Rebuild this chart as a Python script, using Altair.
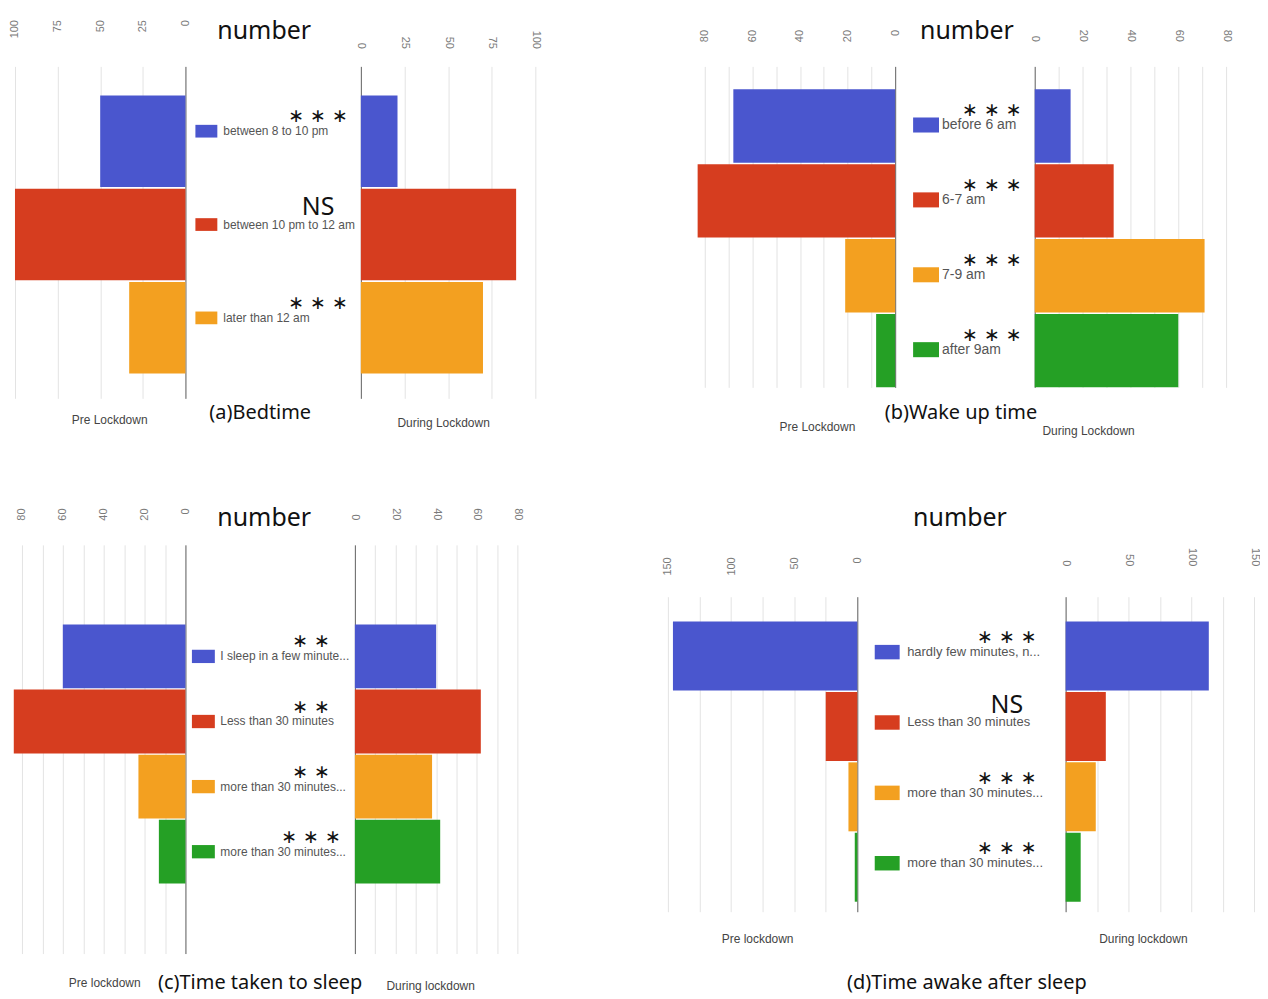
import altair as alt
import pandas as pd

COLORS = ["#4a56ce", "#d63d1f", "#f3a020", "#25a025"]

# (a) Bedtime
a_labels = ["between 8 to 10 pm", "between 10 pm to 12 am", "later than 12 am"]
a_pre = [50, 100, 33]
a_during = [21, 89, 70]
a_sig = ["***", "NS", "***"]

# (b) Wake up time
b_labels = ["before 6 am", "6-7 am", "7-9 am", "after 9am"]
b_pre = [68, 83, 21, 8]
b_during = [15, 33, 71, 60]
b_sig = ["***", "***", "***", "***"]

# (c) Time taken to sleep
c_labels = ["I sleep in a few minute...", "Less than 30 minutes",
            "more than 30 minutes...", "more than 30 minutes..."]
c_pre = [60, 84, 23, 13]
c_during = [40, 62, 38, 42]
c_sig = ["**", "**", "**", "***"]

# (d) Time awake after sleep
d_labels = ["hardly few minutes, n...", "Less than 30 minutes",
            "more than 30 minutes...", "more than 30 minutes..."]
d_pre = [146, 25, 7, 2]
d_during = [114, 32, 24, 12]
d_sig = ["***", "NS", "***", "***"]

W, H = 1250, 983
color = alt.Color("idx:N", scale=alt.Scale(domain=[0, 1, 2, 3], range=COLORS), legend=None)


def frame(labels, pre, during, sig):
    return pd.DataFrame({
        "idx": list(range(len(labels))),
        "label": labels,
        "pre": pre,
        "during": during,
        "sig": sig,
        "stars": [" ".join("\u2217" * len(s)) if s != "NS" else s for s in sig],
    })


def panel(df, s):
    n = len(df)
    ext = s.get("ext", 0)
    ydom = list(range(-ext, n + ext))

    def yscale():
        return alt.Scale(type="band", domain=ydom, range=[s["y0"], s["y1"]], paddingInner=0.02,
                         paddingOuter=s["po"], align=s["align"])

    expr = f"datum.value % {s['major']} === 0 ? datum.label : ''"

    def xaxis(tmax, angle, pad):
        return alt.Axis(orient="top", offset=-s["y0"], values=list(range(0, tmax + 1, s["minor"])),
                        labelExpr=expr, labelAngle=angle, labelAlign="right",
                        labelBaseline="middle", labelPadding=pad, ticks=False, tickSize=0,
                        domain=False, grid=True, gridColor="#e3e3e3", title=None,
                        labelFont="Liberation Sans", labelFontSize=11, labelColor="#7a7a7a",
                        labelFlush=False, labelOverlap=False)

    def yaxis(xpos):
        return alt.Axis(orient="left", offset=-xpos, labels=False, ticks=False, domain=True,
                        domainColor="#666", grid=False, title=None)

    left = alt.Chart(df).mark_bar().encode(
        y=alt.Y("idx:N", scale=yscale(), axis=yaxis(s["l0"])),
        x=alt.X("pre:Q", scale=alt.Scale(domain=[0, s["ltick"]], range=[s["l0"], s["l1"]], nice=False),
                axis=xaxis(s["ltick"], -90, s["lpad"])),
        color=color,
    )
    right = alt.Chart(df).mark_bar().encode(
        y=alt.Y("idx:N", scale=yscale(), axis=yaxis(s["r0"])),
        x=alt.X("during:Q", scale=alt.Scale(domain=[0, s["rtick"]], range=[s["r0"], s["r1"]], nice=False),
                axis=xaxis(s["rtick"], 90, s["rpad"])),
        color=color,
    )

    base = alt.Chart(df)
    sw = s["sw"]
    swatch = base.mark_point(shape="M-1,-0.58L1,-0.58L1,0.58L-1,0.58Z", filled=True,
                             opacity=1, size=sw * sw, strokeWidth=0, yOffset=s["ldy"]).encode(
        x=alt.value(s["sx"]), y=alt.Y("idx:N", scale=yscale(), axis=None), color=color)
    text = base.mark_text(align="left", baseline="middle", font="Liberation Sans",
                          fontSize=s["fs"], color="#555", dy=s["ldy"]).encode(
        x=alt.value(s["tx"]), y=alt.Y("idx:N", scale=yscale(), axis=None), text="label:N")
    stars = base.transform_filter(alt.datum.sig != "NS").mark_text(
        align="center", baseline="middle", font="DejaVu Sans", fontSize=19,
        color="#111", dy=s["ldy"] - 15).encode(
        x=alt.value(s["stx"]), y=alt.Y("idx:N", scale=yscale(), axis=None), text="stars:N")
    ns = base.transform_filter(alt.datum.sig == "NS").mark_text(
        align="center", baseline="middle", font="Noto Sans", fontSize=25,
        color="#111", dy=s["ldy"] - 18).encode(
        x=alt.value(s["stx"]), y=alt.Y("idx:N", scale=yscale(), axis=None), text="stars:N")
    return [left, right, swatch, text, stars, ns]


layers = []
layers += panel(frame(a_labels, a_pre, a_during, a_sig), dict(
    y0=57, y1=390, po=0.288, align=0.54, l0=178, l1=7, r0=354, r1=529, ltick=100, rtick=100,
    minor=25, major=25, lpad=47, rpad=18, sw=22, sx=199, tx=216, ldy=-10, stx=311, fs=12))
layers += panel(frame(b_labels, b_pre, b_during, b_sig), dict(
    y0=57, y1=379, po=0.153, align=1.0, l0=890, l1=699, r0=1030, r1=1222, ltick=80, rtick=80,
    minor=10, major=20, lpad=37, rpad=25, sw=26, sx=921, tx=937, ldy=-1, stx=987, fs=14))
layers += panel(frame(c_labels, c_pre, c_during, c_sig), dict(
    ext=1, y0=537, y1=947, po=0.149, align=0.75, l0=178, l1=14, r0=348, r1=511, ltick=80, rtick=80,
    minor=10, major=20, lpad=37, rpad=25, sw=23, sx=196, tx=213, ldy=0, stx=304, fs=12))
layers += panel(frame(d_labels, d_pre, d_during, d_sig), dict(
    y0=589, y1=905, po=0.248, align=0.714, l0=852, l1=662, r0=1061, r1=1250, ltick=150, rtick=150,
    minor=25, major=50, lpad=40, rpad=31, sw=25, sx=882, tx=902, ldy=-4, stx=1002, fs=13))

# captions (layout positions in view pixels)
heads = pd.DataFrame({"t": ["number"] * 4, "x": [257, 962, 257, 955], "y": [22, 22, 510, 510]})
panel_titles = pd.DataFrame({
    "t": ["(a)Bedtime", "(b)Wake up time", "(c)Time taken to sleep", "(d)Time awake after sleep"],
    "x": [253, 956, 253, 962], "y": [405, 405, 977, 977]})
sides = pd.DataFrame({
    "t": ["Pre Lockdown", "During Lockdown", "Pre Lockdown", "During Lockdown",
          "Pre lockdown", "During lockdown", "Pre lockdown", "During lockdown"],
    "x": [102, 437, 812, 1084, 97, 424, 752, 1139],
    "y": [412, 415, 419, 423, 977, 980, 932, 932]})


def caption(df, font, size, col):
    return alt.Chart(df).mark_text(font=font, fontSize=size, color=col, align="center",
                                   baseline="middle").encode(
        x=alt.X("x:Q", scale=None), y=alt.Y("y:Q", scale=None), text="t:N")


layers += [caption(heads, "Noto Sans", 25, "#111"),
           caption(panel_titles, "Noto Sans", 20, "#111"),
           caption(sides, "Liberation Sans", 12, "#444")]

chart = alt.layer(*layers).resolve_scale(x="independent", y="independent").resolve_axis(
    x="independent", y="independent").properties(
    width=W, height=H, padding=0, background="white"
).configure_view(stroke=None)

chart.save("out.html", embed_options={"renderer": "svg", "actions": False})
